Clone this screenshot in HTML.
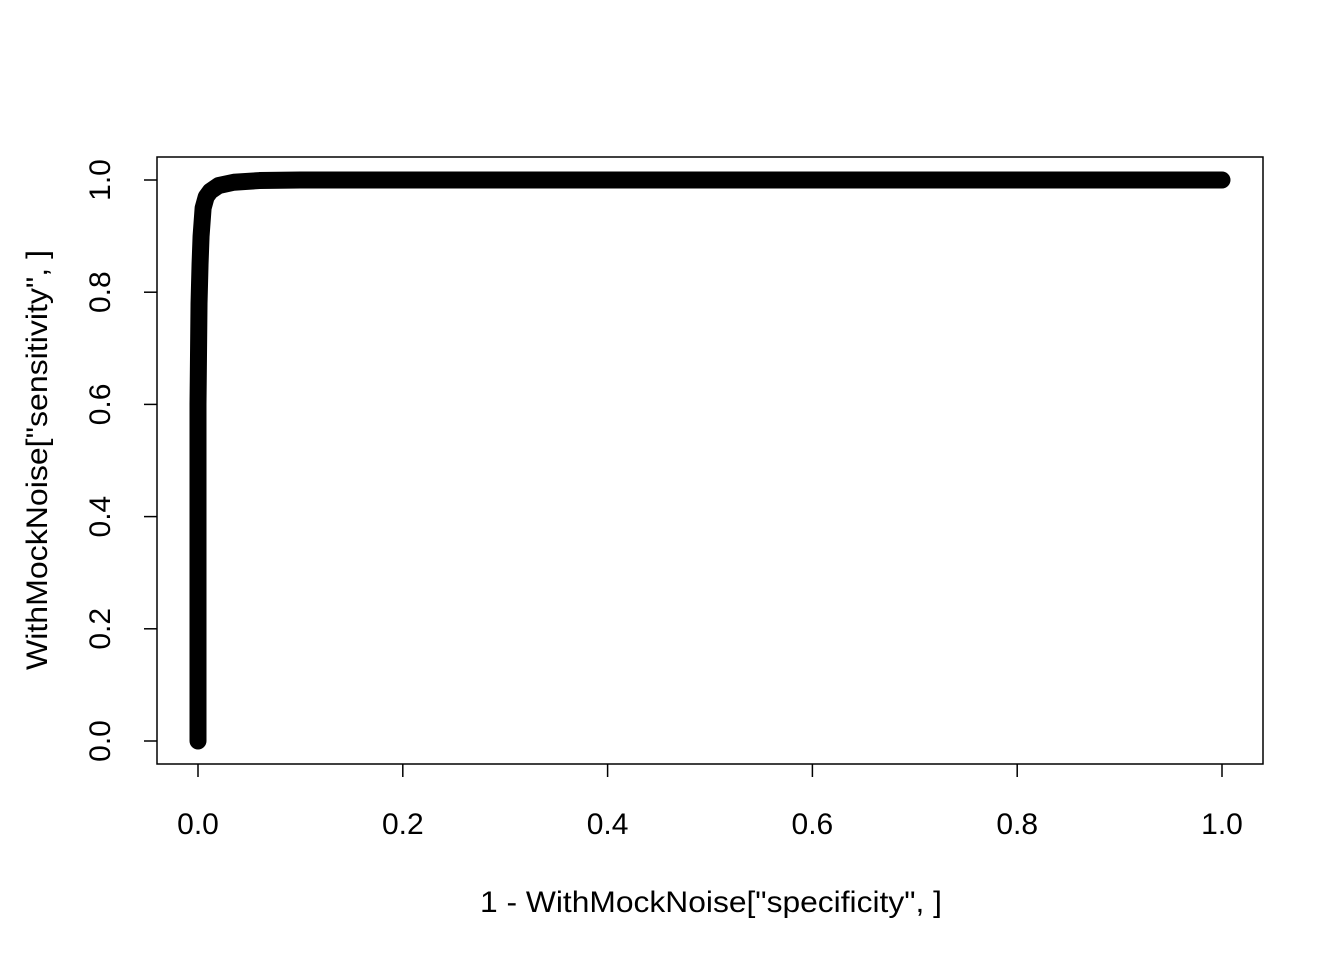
<!DOCTYPE html>
<html><head><meta charset="utf-8"><style>body{margin:0;background:#fff}svg{display:block}text{font-family:"Liberation Sans",sans-serif;font-size:30px;fill:#000}</style></head>
<body>
<svg width="1344" height="960">
<rect x="157" y="157" width="1106" height="607" fill="none" stroke="#000" stroke-width="1.5"/>
<g id="axes"></g>
<polyline id="curve" fill="none" stroke="#000" stroke-width="17" stroke-linecap="round" stroke-linejoin="round"/>
<text x="711" y="912" text-anchor="middle" textLength="462" lengthAdjust="spacingAndGlyphs">1 - WithMockNoise["specificity", ]</text>
<text transform="translate(47,460) rotate(-90)" text-anchor="middle" textLength="420" lengthAdjust="spacingAndGlyphs">WithMockNoise["sensitivity", ]</text>
</svg>
<script>
const fpr=[0,0,0.001,0.002,0.003,0.005,0.008,0.012,0.02,0.035,0.06,0.1,1];
const tpr=[0,0.6,0.78,0.85,0.9,0.95,0.97,0.98,0.99,0.996,0.999,1,1];
const ticks=[0,0.2,0.4,0.6,0.8,1];
const tickLabels=["0.0","0.2","0.4","0.6","0.8","1.0"];
const sx=v=>198+v*1024, sy=v=>741-v*561;
const ns="http://www.w3.org/2000/svg";
const c=document.getElementById('curve');
c.setAttribute('points',fpr.map((v,i)=>sx(v)+','+sy(tpr[i])).join(' '));
const g=document.getElementById('axes');
function mk(t,a){const e=document.createElementNS(ns,t);for(const k in a)e.setAttribute(k,a[k]);g.appendChild(e);return e;}
ticks.forEach((t,i)=>{
 const l=mk('line',{x1:sx(t),x2:sx(t),y1:764,y2:777,stroke:'#000','stroke-width':1.5});
 
 
 const tx=mk('text',{x:sx(t),y:834,'text-anchor':'middle'});tx.textContent=tickLabels[i];
 
 
 const l2=mk('line',{x1:144,x2:157,y1:sy(t),y2:sy(t),stroke:'#000','stroke-width':1.5});
 
 
 const ty=mk('text',{transform:`translate(110,${sy(t)}) rotate(-90)`,'text-anchor':'middle'});ty.textContent=tickLabels[i];
 
 
});
</script>
</body></html>
